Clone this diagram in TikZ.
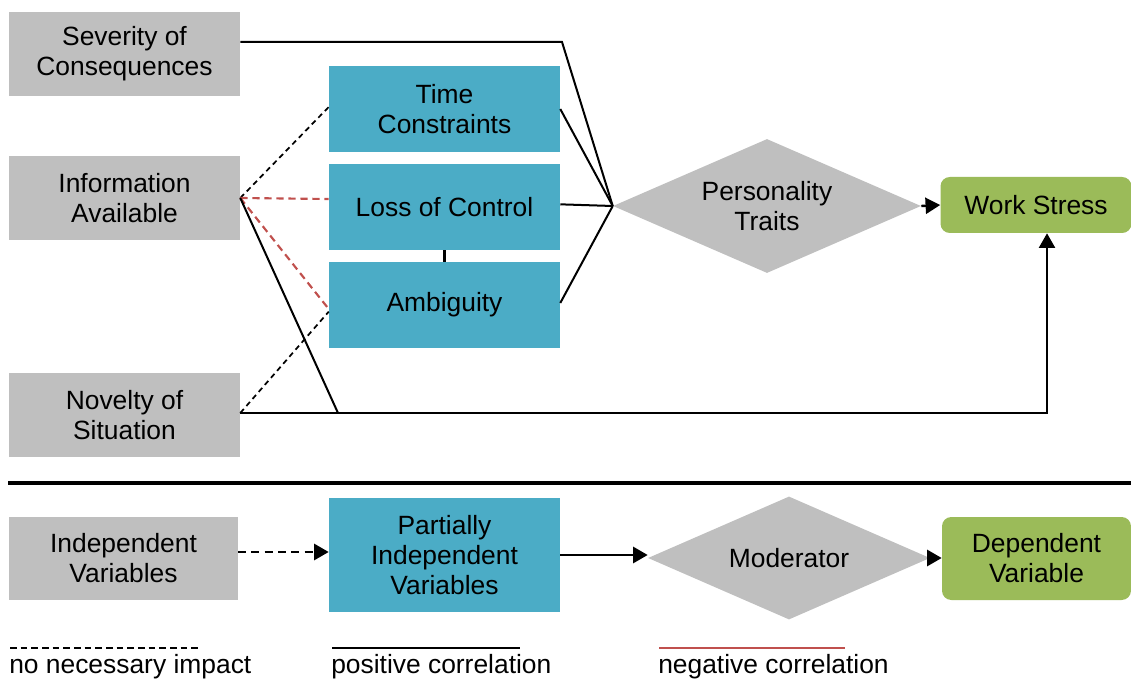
\documentclass[tikz,border=0pt]{standalone}
\usepackage{fontspec}
\setmainfont{Liberation Sans}
\usetikzlibrary{shapes.geometric,arrows.meta,calc}
\definecolor{boxgray}{HTML}{BFBFBF}
\definecolor{boxteal}{HTML}{4BACC6}
\definecolor{boxgreen}{HTML}{9BBB59}
\definecolor{negred}{HTML}{C0504D}
\begin{document}
\begin{tikzpicture}[x=0.75pt,y=-0.75pt,
  every node/.style={font=\fontsize{19.8}{22.5}\selectfont, align=center, inner sep=0pt},
  graybox/.style={fill=boxgray, draw=none},
  tealbox/.style={fill=boxteal, draw=none},
  greenbox/.style={fill=boxgreen, draw=none, rounded corners=7pt},
  moddiamond/.style={diamond, shape aspect=2.3, fill=boxgray, draw=none},
  conn/.style={line width=1.5pt, black},
  noimp/.style={line width=1.3pt, black, dash pattern=on 4pt off 3pt},
  negdash/.style={line width=1.6pt, negred, dash pattern=on 5.5pt off 3.5pt},
  tip/.style={-{Triangle[length=11pt,width=12pt]}},
  legtext/.style={anchor=base west}
]
\useasboundingbox (0,0) rectangle (1131,680);

% top part nodes
\node[graybox, minimum width=173.25pt, minimum height=63pt] (sev) at (124.5,54) {Severity of\\Consequences};
\node[graybox, minimum width=173.25pt, minimum height=63pt] (info) at (124.5,198) {Information\\Available};
\node[graybox, minimum width=173.25pt, minimum height=63pt] (nov) at (124.5,415) {Novelty of\\Situation};
\node[tealbox, minimum width=173.25pt, minimum height=64.5pt] (time) at (444.5,109) {Time\\Constraints};
\node[tealbox, minimum width=173.25pt, minimum height=64.5pt] (loc) at (444.5,207) {Loss of Control};
\node[tealbox, minimum width=173.25pt, minimum height=64.5pt] (amb) at (444.5,305) {Ambiguity};
\node[moddiamond, minimum width=231pt, minimum height=100.5pt] (pers) at (767,206) {Personality\\Traits};
\node[greenbox, minimum width=143.25pt, minimum height=42pt] (ws) at (1036,205) {Work Stress};

% helper coordinates
\coordinate (sevbend) at (562,42);
\coordinate (join) at (338,413);
\coordinate (turn) at (1047,413);

% connectors top
\draw[conn] ([yshift=9pt]sev.east) -- (sevbend) -- (pers.west);
\draw[conn] (time.east) -- (pers.west);
\draw[conn] ([yshift=2pt]loc.east) -- (pers.west);
\draw[conn] ([yshift=1.5pt]amb.east) -- (pers.west);
\draw[line width=2pt] (loc.south) -- (amb.north);
\draw[noimp] (info.east) -- ([yshift=1.5pt]time.west);
\draw[negdash] (info.east) -- ([yshift=6pt]loc.west);
\draw[negdash] (info.east) -- ([yshift=-3pt]amb.west);
\draw[noimp] ([yshift=1.5pt]nov.east) -- ([yshift=-5pt]amb.west);
\draw[conn] (info.east) -- (join);
\draw[line width=1.8pt, tip] ([yshift=1.5pt]nov.east) -- (turn) -- (turn |- ws.south);
\draw[line width=1.8pt, tip] (pers.east) -- (ws.west);

% divider
\draw[line width=3pt] (8,483) -- (1131,483);

% bottom key row
\node[graybox, minimum width=171.75pt, minimum height=62.25pt] (iv) at (123.5,558.5) {Independent\\Variables};
\node[tealbox, minimum width=173.25pt, minimum height=85.5pt] (piv) at (444.5,555) {Partially\\Independent\\Variables};
\node[moddiamond, minimum width=211.5pt, minimum height=92.25pt] (mod) at (789,558) {Moderator};
\node[greenbox, minimum width=141.75pt, minimum height=62.25pt] (dv) at (1036.5,558.5) {Dependent\\Variable};

\coordinate (ivout) at (238,552);
\draw[line width=2.2pt, dash pattern=on 6pt off 4pt, tip] (ivout) -- (ivout -| piv.west);
\draw[line width=2.2pt, tip] (piv.east) -- (piv.east -| mod.west);
\draw[line width=2.2pt, tip] (mod.east) -- (mod.east -| dv.west);

% legend
\draw[line width=1.3pt, dash pattern=on 5pt off 3pt] (10,648) -- (200,648);
\draw[line width=1.6pt] (332,648) -- (520,648);
\draw[line width=2.2pt, negred] (659,648) -- (845,648);
\node[legtext] (l1) at (9,673) {no necessary impact};
\node[legtext] (l2) at (331,673) {positive correlation};
\node[legtext] (l3) at (658,673) {negative correlation};
\end{tikzpicture}
\end{document}
